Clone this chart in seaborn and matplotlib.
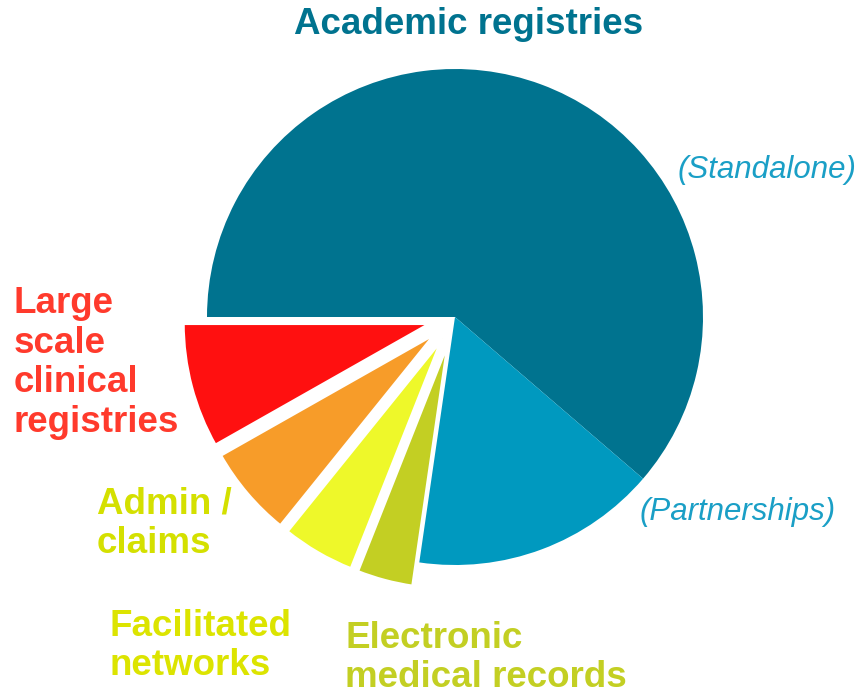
import matplotlib
matplotlib.use("Agg")
import matplotlib.pyplot as plt
import seaborn as sns

# slice data, clockwise from 9 o'clock
segments = ["Standalone", "Partnerships", "Electronic medical records",
            "Facilitated networks", "Admin / claims", "Large scale clinical registries"]
shares = [61.3, 16.0, 3.7, 4.8, 6.0, 8.2]
offsets = [0, 0, 0.1, 0.1, 0.1, 0.1]
slice_colors = ["#00738f", "#0099bf", "#c3cf23", "#eef82a", "#f79c29", "#ff1010"]

sns.set_theme(style="white")
plt.rcParams["font.family"] = ["Liberation Sans", "DejaVu Sans"]

fig = plt.figure(figsize=(8.6, 6.97), dpi=100)
ax = fig.add_axes([0, 0, 1, 1])
wedges, _ = ax.pie(shares, explode=offsets, colors=slice_colors, startangle=180,
                   counterclock=False, radius=1,
                   wedgeprops=dict(edgecolor="white", linewidth=2.5))
# the two academic slices are joined without a white seam
for w in wedges[:2]:
    w.set_linewidth(0)
# pie centre at (455, 317) px with radius 248 px
ax.set_xlim(-455 / 248, (860 - 455) / 248)
ax.set_ylim(-(697 - 317) / 248, 317 / 248)
ax.set_aspect("auto")
ax.axis("off")

W, H = 860, 697


def put(x, y, s, **kw):
    fig.text(x / W, 1 - y / H, s, **kw)


put(469, 24, "Academic registries", ha="center", va="center",
    fontsize=26.5, fontweight="bold", color="#00738f")
put(678, 170, "(Standalone)", ha="left", va="center",
    fontsize=22.5, style="italic", color="#1a9fc6")
put(640, 512, "(Partnerships)", ha="left", va="center",
    fontsize=22.5, style="italic", color="#1a9fc6")
put(14, 363, "Large\nscale\nclinical\nregistries", ha="left", va="center",
    fontsize=26.5, fontweight="bold", color="#ff3a2c", linespacing=1.18)
put(97, 524, "Admin /\nclaims", ha="left", va="center",
    fontsize=26.5, fontweight="bold", color="#d4e000", linespacing=1.18)
put(110, 646, "Facilitated\nnetworks", ha="left", va="center",
    fontsize=26.5, fontweight="bold", color="#dce400", linespacing=1.18)
put(345, 658, "Electronic\nmedical records", ha="left", va="center",
    fontsize=26.5, fontweight="bold", color="#c3cf23", linespacing=1.15)

fig.savefig("out.png", dpi=100)
